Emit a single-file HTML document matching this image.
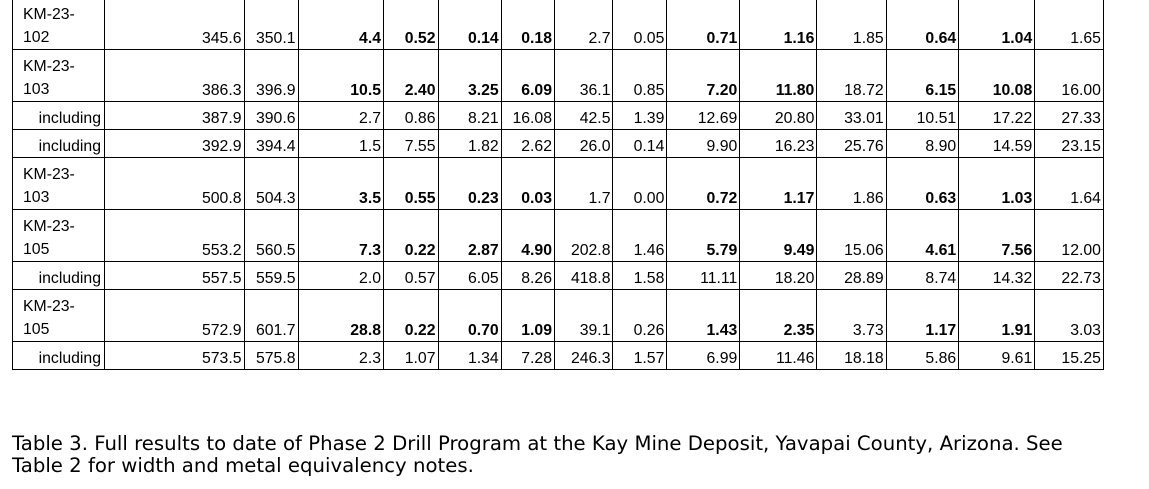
<!DOCTYPE html>
<html><head><meta charset="utf-8"><style>
body{margin:0;width:1149px;height:489px;background:#fff;position:relative;overflow:hidden}
table{position:absolute;left:12px;top:-3px;border-collapse:collapse;table-layout:fixed;font-family:"Liberation Sans",Arial,sans-serif;font-size:15.8px;color:#000}
td{border:1px solid #000;padding:0 2px 0 2px;text-align:right;vertical-align:bottom;line-height:20px;white-space:nowrap;overflow:hidden}
td:first-child{text-align:left;padding-left:10px;line-height:23px}
td.inc{text-align:right;padding-right:3px;line-height:20px}
tr.t{height:52px} tr.s{height:28px}
b{font-weight:bold}
.cap{position:absolute;left:12px;top:433px;font-family:"DejaVu Sans",Verdana,sans-serif;font-size:19.7px;line-height:22px;color:#000;white-space:nowrap}
</style></head><body>
<table>
<colgroup><col style="width:92px"><col style="width:139.5px"><col style="width:54px"><col style="width:85.5px"><col style="width:54.5px"><col style="width:63.2px"><col style="width:53.3px"><col style="width:58.5px"><col style="width:53.9px"><col style="width:72.9px"><col style="width:77.1px"><col style="width:69.3px"><col style="width:72.5px"><col style="width:76.1px"><col style="width:68.7px"></colgroup>
<tr class="t"><td>KM-23-<br>102</td><td>345.6</td><td>350.1</td><td><b>4.4</b></td><td><b>0.52</b></td><td><b>0.14</b></td><td><b>0.18</b></td><td>2.7</td><td>0.05</td><td><b>0.71</b></td><td><b>1.16</b></td><td>1.85</td><td><b>0.64</b></td><td><b>1.04</b></td><td>1.65</td></tr>
<tr class="t"><td>KM-23-<br>103</td><td>386.3</td><td>396.9</td><td><b>10.5</b></td><td><b>2.40</b></td><td><b>3.25</b></td><td><b>6.09</b></td><td>36.1</td><td>0.85</td><td><b>7.20</b></td><td><b>11.80</b></td><td>18.72</td><td><b>6.15</b></td><td><b>10.08</b></td><td>16.00</td></tr>
<tr class="s"><td class="inc">including</td><td>387.9</td><td>390.6</td><td>2.7</td><td>0.86</td><td>8.21</td><td>16.08</td><td>42.5</td><td>1.39</td><td>12.69</td><td>20.80</td><td>33.01</td><td>10.51</td><td>17.22</td><td>27.33</td></tr>
<tr class="s"><td class="inc">including</td><td>392.9</td><td>394.4</td><td>1.5</td><td>7.55</td><td>1.82</td><td>2.62</td><td>26.0</td><td>0.14</td><td>9.90</td><td>16.23</td><td>25.76</td><td>8.90</td><td>14.59</td><td>23.15</td></tr>
<tr class="t"><td>KM-23-<br>103</td><td>500.8</td><td>504.3</td><td><b>3.5</b></td><td><b>0.55</b></td><td><b>0.23</b></td><td><b>0.03</b></td><td>1.7</td><td>0.00</td><td><b>0.72</b></td><td><b>1.17</b></td><td>1.86</td><td><b>0.63</b></td><td><b>1.03</b></td><td>1.64</td></tr>
<tr class="t"><td>KM-23-<br>105</td><td>553.2</td><td>560.5</td><td><b>7.3</b></td><td><b>0.22</b></td><td><b>2.87</b></td><td><b>4.90</b></td><td>202.8</td><td>1.46</td><td><b>5.79</b></td><td><b>9.49</b></td><td>15.06</td><td><b>4.61</b></td><td><b>7.56</b></td><td>12.00</td></tr>
<tr class="s"><td class="inc">including</td><td>557.5</td><td>559.5</td><td>2.0</td><td>0.57</td><td>6.05</td><td>8.26</td><td>418.8</td><td>1.58</td><td>11.11</td><td>18.20</td><td>28.89</td><td>8.74</td><td>14.32</td><td>22.73</td></tr>
<tr class="t"><td>KM-23-<br>105</td><td>572.9</td><td>601.7</td><td><b>28.8</b></td><td><b>0.22</b></td><td><b>0.70</b></td><td><b>1.09</b></td><td>39.1</td><td>0.26</td><td><b>1.43</b></td><td><b>2.35</b></td><td>3.73</td><td><b>1.17</b></td><td><b>1.91</b></td><td>3.03</td></tr>
<tr class="s"><td class="inc">including</td><td>573.5</td><td>575.8</td><td>2.3</td><td>1.07</td><td>1.34</td><td>7.28</td><td>246.3</td><td>1.57</td><td>6.99</td><td>11.46</td><td>18.18</td><td>5.86</td><td>9.61</td><td>15.25</td></tr>
</table>
<div class="cap">Table 3. Full results to date of Phase 2 Drill Program at the Kay Mine Deposit, Yavapai County, Arizona. See<br>Table 2 for width and metal equivalency notes.</div>
</body></html>
